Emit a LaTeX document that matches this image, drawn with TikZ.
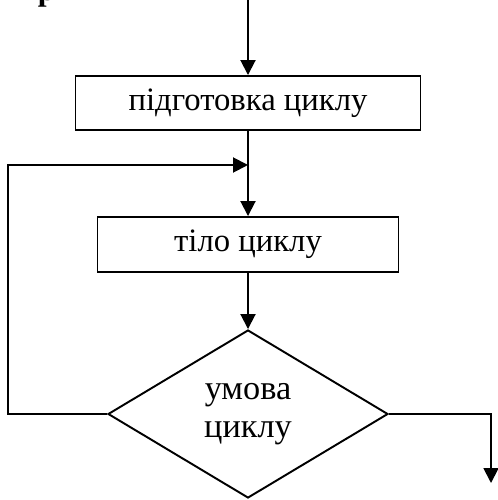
\documentclass[tikz,border=0pt]{standalone}
\usepackage{fontspec}
\setmainfont{Liberation Serif}
\usetikzlibrary{arrows.meta}
\usetikzlibrary{shapes.geometric}

\begin{document}
\begin{tikzpicture}[
    >={Triangle[length=0.3cm,width=0.3cm]},
    every node/.style={font=\fontsize{18.6}{22}\selectfont},
    line width=1.1pt
]

\def\X{4.96}
\def\J{-3.3}

\useasboundingbox (0,0) rectangle (9.94,-10);

% cut-off heading letter
\node[anchor=base west, inner sep=0pt, font=\fontsize{18}{20}\selectfont\bfseries] (head) at (0.74,-0.02) {р};

\node[draw, minimum width=6.9cm, minimum height=1.08cm] (prep) at (\X,-2.06) {підготовка циклу};
\node[draw, minimum width=6.02cm, minimum height=1.1cm] (body) at (\X,-4.89) {тіло циклу};
\node[draw, diamond, aspect=1.667, inner sep=0pt, minimum width=5.6cm, minimum height=3.36cm, align=center,
      font=\fontsize{19.5}{22}\selectfont] (cond) at (\X,-8.28) {умова\\циклу};

\coordinate (in) at (\X,0.1);
\coordinate (join) at (\X,\J);
\coordinate (loop) at (0.16,\J);
\coordinate (exit) at (9.82,-9.66);

\draw[->] (in) -- (prep);
\draw (prep) -- (join);
\draw[->] (join) -- (body);
\draw[->] (body) -- (cond);
\draw[->] (cond.west) -| (loop) -- (join);
\draw[->] (cond.east) -| (exit);

\end{tikzpicture}
\end{document}
